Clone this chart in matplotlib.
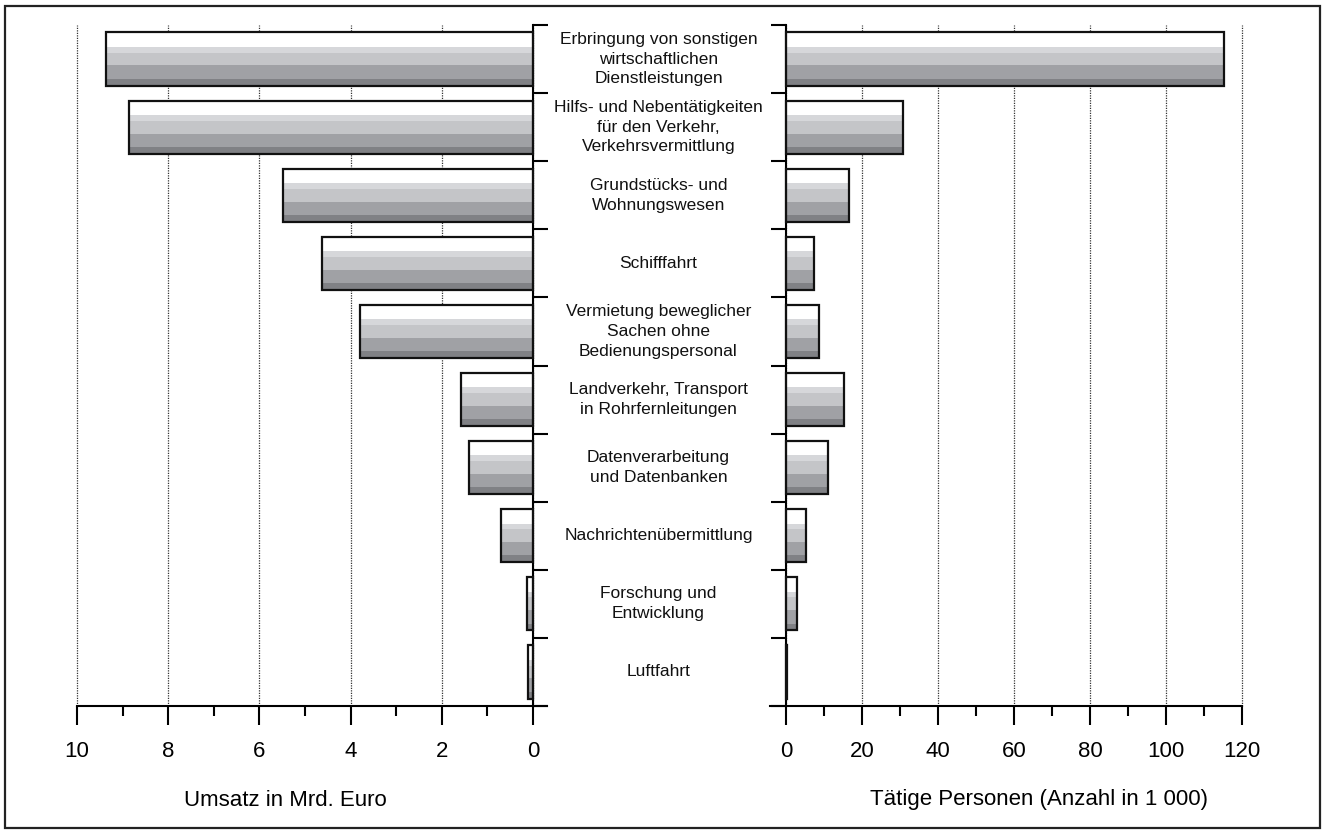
import matplotlib.pyplot as plt
import matplotlib.patches as patches
from matplotlib.ticker import MultipleLocator

plt.rcParams['font.family'] = ['Liberation Sans', 'DejaVu Sans']

# Wirtschaftszweige, von oben nach unten
branchen = [
    'Erbringung von sonstigen\nwirtschaftlichen\nDienstleistungen',
    'Hilfs- und Nebentätigkeiten\nfür den Verkehr,\nVerkehrsvermittlung',
    'Grundstücks- und\nWohnungswesen',
    'Schifffahrt',
    'Vermietung beweglicher\nSachen ohne\nBedienungspersonal',
    'Landverkehr, Transport\nin Rohrfernleitungen',
    'Datenverarbeitung\nund Datenbanken',
    'Nachrichtenübermittlung',
    'Forschung und\nEntwicklung',
    'Luftfahrt',
]
umsatz_mrd = [9.37, 8.86, 5.49, 4.62, 3.80, 1.58, 1.41, 0.70, 0.13, 0.11]
personen_tsd = [115.3, 30.8, 16.6, 7.4, 8.7, 15.3, 11.1, 5.3, 3.0, 0.3]

umsatz_ticks = [0, 2, 4, 6, 8, 10]
personen_ticks = [0, 20, 40, 60, 80, 100, 120]

# Querstreifen der Balken: (Anteil oben, Anteil unten, Farbe)
STREIFEN = [
    (0.00, 0.27, '#ffffff'),
    (0.27, 0.38, '#d6d7da'),
    (0.38, 0.62, '#c4c5c8'),
    (0.62, 0.87, '#a0a1a5'),
    (0.87, 1.00, '#808185'),
]
BAR_H = 0.78


def draw_bars(ax, values):
    pos = list(range(len(values)))
    for f0, f1, color in STREIFEN:
        centers = [p - BAR_H / 2 + (f0 + f1) / 2 * BAR_H for p in pos]
        ax.barh(centers, values, height=(f1 - f0) * BAR_H, left=0,
                color=color, linewidth=0, zorder=2)
    ax.barh(pos, values, height=BAR_H, left=0, facecolor='none',
            edgecolor='#111111', linewidth=1.6, zorder=3)


def style_axis(ax, ticks, minor, side):
    ax.set_ylim(len(branchen) - 0.5, -0.5)
    ax.set_yticks([i - 0.5 for i in range(len(branchen) + 1)])
    ax.set_yticklabels([])
    ax.set_xticks(ticks)
    ax.xaxis.set_minor_locator(MultipleLocator(minor))
    ax.tick_params(axis='x', which='major', length=13.5, width=1.5,
                   labelsize=16, pad=12, direction='out')
    ax.tick_params(axis='x', which='minor', length=7, width=1.5, direction='out')
    ax.tick_params(axis='y', length=11, width=1.5, direction='out')
    for s in ('top', side):
        ax.spines[s].set_visible(False)
    for s in ax.spines.values():
        s.set_linewidth(1.5)
    ax.grid(axis='x', color='#333333', linestyle=(0, (1, 1)), linewidth=0.9)
    for line in ax.get_xgridlines():
        line.set_clip_on(False)
    ax.set_axisbelow(True)


fig = plt.figure(figsize=(13.22, 8.31), dpi=100)
W, H = 1322, 831

ax_l = fig.add_axes([77 / W, (H - 706) / H, 470 / W, 681 / H])
ax_r = fig.add_axes([770 / W, (H - 706) / H, 472 / W, 681 / H])

# linke Seite: Umsatz
draw_bars(ax_l, umsatz_mrd)
ax_l.set_xlim(10, -0.31)
style_axis(ax_l, umsatz_ticks, 1, 'left')
ax_l.spines['right'].set_position(('data', 0))
ax_l.yaxis.tick_right()
ax_l.tick_params(axis='y', length=11)

# rechte Seite: tätige Personen
draw_bars(ax_r, personen_tsd)
ax_r.set_xlim(-4.2, 120)
style_axis(ax_r, personen_ticks, 10, 'right')
ax_r.spines['left'].set_position(('data', 0))
ax_r.yaxis.tick_left()

# Branchennamen in der Mitte
for i, name in enumerate(branchen):
    y = (H - (25 + 68.1 * (i + 0.5))) / H
    fig.text(658.5 / W, y, name, ha='center', va='center', fontsize=12.5,
             linespacing=1.4, color='#111111')

fig.text(285 / W, (H - 800) / H, 'Umsatz in Mrd. Euro', ha='center',
         va='center', fontsize=16)
fig.text(1039 / W, (H - 800) / H, 'Tätige Personen (Anzahl in 1 000)',
         ha='center', va='center', fontsize=16)

# Rahmen um die Grafik
fig.patches.append(patches.Rectangle((5 / W, 3 / H), 1315 / W, 822 / H,
                                     transform=fig.transFigure, fill=False,
                                     edgecolor='#222222', linewidth=1.6))

fig.savefig('out.png', dpi=100)
